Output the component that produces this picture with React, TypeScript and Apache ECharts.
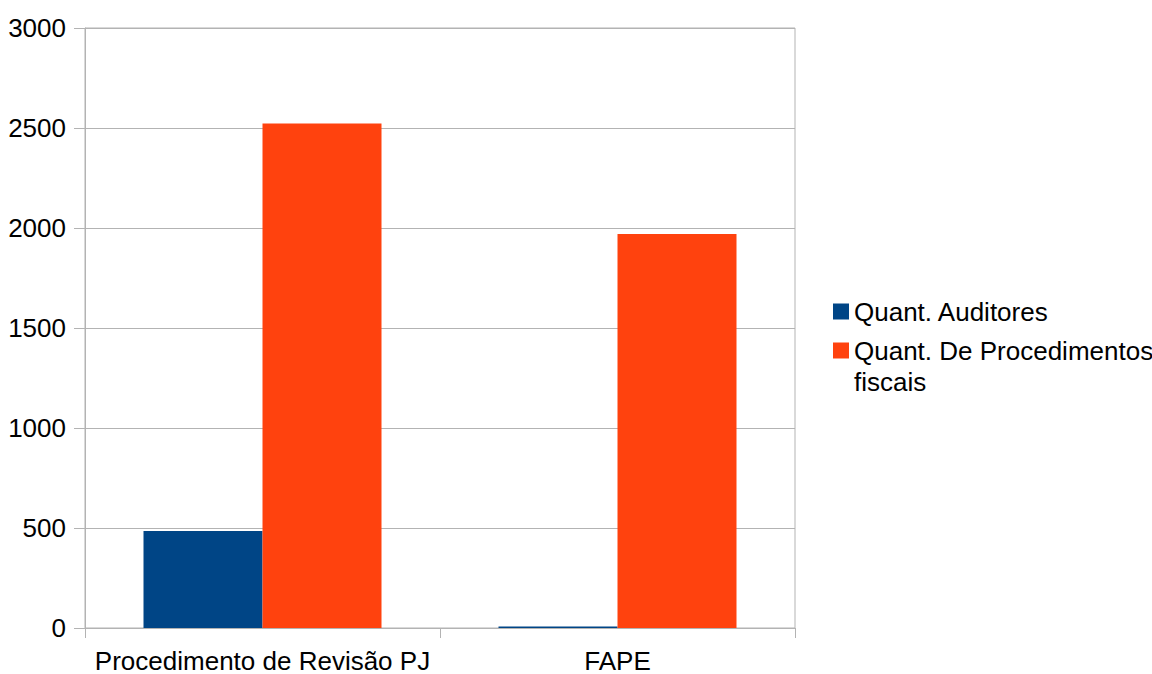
import React, { useEffect, useRef } from "react";
import * as echarts from "echarts";

const categories = ["Procedimento de Revisão PJ", "FAPE"];
const seriesNames = ["Quant. Auditores", "Quant. De Procedimentos fiscais"];
const auditores = [485, 8];
const procedimentos = [2523, 1970];
const yTicks = { min: 0, max: 3000, interval: 500 };

const FONT = "'Liberation Sans', Arial, sans-serif";
const GRID_COLOR = "#b3b3b3";
const FS = 26;

export default function App() {
  const ref = useRef<HTMLDivElement>(null);
  useEffect(() => {
    document.body.style.margin = "0";
    const chart = echarts.init(ref.current!, null, { renderer: "svg" });
    chart.setOption({
      animation: false,
      backgroundColor: "#ffffff",
      textStyle: { fontFamily: FONT },
      grid: {
        left: 85,
        right: 357,
        top: 28,
        bottom: 44,
        show: true,
        borderColor: GRID_COLOR,
        borderWidth: 1,
        containLabel: false,
      },
      legend: [
        {
          data: [seriesNames[0]],
          orient: "vertical",
          left: 828,
          top: 291,
          itemWidth: 16,
          itemHeight: 16,
          icon: "rect",
          textStyle: { fontSize: FS, color: "#000", fontFamily: FONT, lineHeight: 31 },
        },
        {
          data: [seriesNames[1]],
          orient: "vertical",
          left: 828,
          top: 299,
          itemWidth: 16,
          itemHeight: 16,
          icon: "rect",
          formatter: () => "\nQuant. De Procedimentos\nfiscais",
          textStyle: { fontSize: FS, color: "#000", fontFamily: FONT, lineHeight: 31 },
        },
      ],
      xAxis: {
        type: "category",
        data: categories,
        axisLine: { show: true, lineStyle: { color: GRID_COLOR } },
        axisTick: { show: true, length: 10, lineStyle: { color: GRID_COLOR } },
        axisLabel: {
          fontSize: FS,
          color: "#000",
          margin: 21,
          fontFamily: FONT,
          interval: 0,
          lineHeight: 24,
        },
        splitLine: { show: false },
      },
      yAxis: {
        type: "value",
        min: yTicks.min,
        max: yTicks.max,
        interval: yTicks.interval,
        axisLine: { show: true, lineStyle: { color: GRID_COLOR } },
        axisTick: { show: true, length: 11, lineStyle: { color: GRID_COLOR } },
        axisLabel: {
          fontSize: FS,
          color: "#000",
          margin: 19,
          fontFamily: FONT,
          formatter: (v: number) => String(v),
        },
        splitLine: { show: true, lineStyle: { color: GRID_COLOR } },
      },
      series: [
        {
          name: seriesNames[0],
          type: "bar",
          data: auditores,
          barWidth: 119,
          barGap: "0%",
          itemStyle: { color: "#004586" },
        },
        {
          name: seriesNames[1],
          type: "bar",
          data: procedimentos,
          barWidth: 119,
          barGap: "0%",
          itemStyle: { color: "#ff420e" },
        },
      ],
    });
    return () => chart.dispose();
  }, []);
  return <div ref={ref} style={{ width: 1152, height: 674 }} />;
}
